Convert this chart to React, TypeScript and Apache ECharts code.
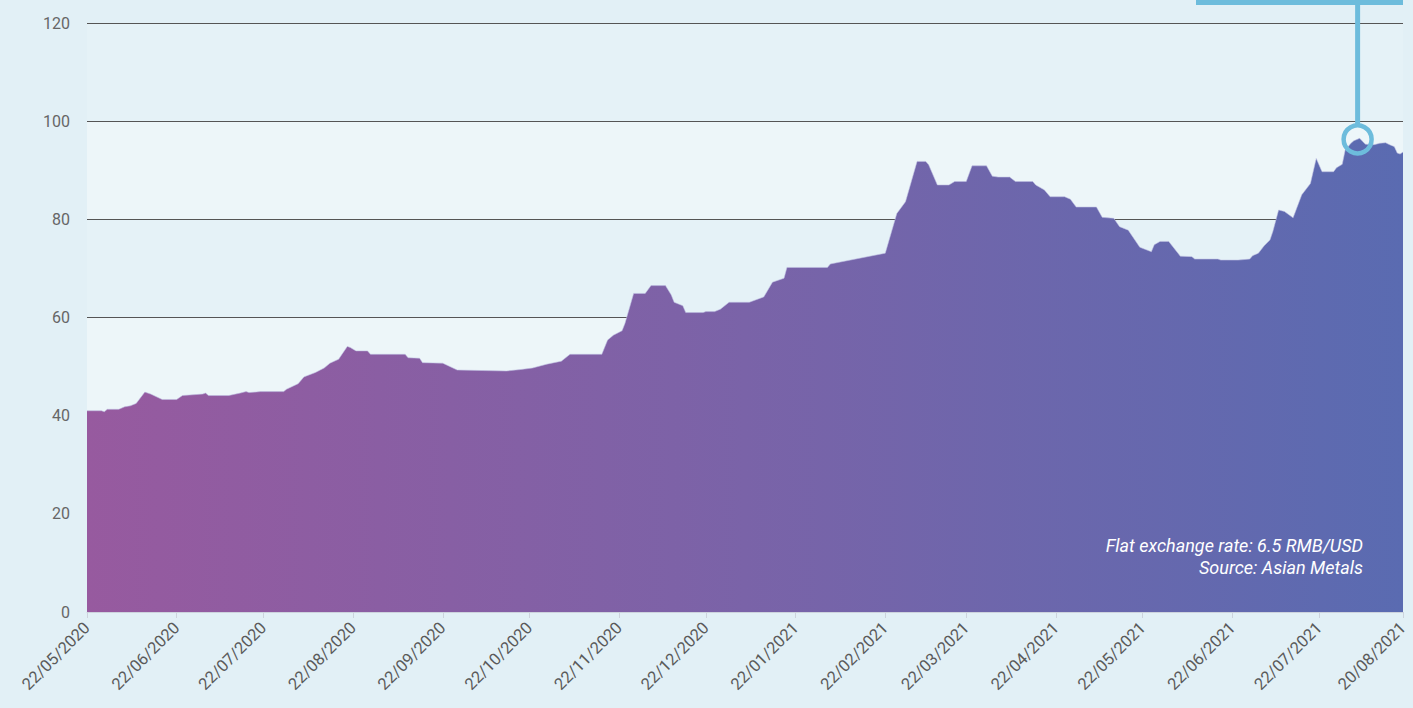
import React, { useEffect, useRef } from "react";
import * as echarts from "echarts";

const START_DATE = "2020-05-22";
const END_DATE = "2021-08-20";

const priceDates = [
  "2020-05-22", "2020-05-27", "2020-05-28", "2020-05-29", "2020-06-02", "2020-06-04", "2020-06-06", "2020-06-08",
  "2020-06-11", "2020-06-13", "2020-06-17", "2020-06-22", "2020-06-24", "2020-07-01", "2020-07-02", "2020-07-03",
  "2020-07-10", "2020-07-14", "2020-07-16", "2020-07-17", "2020-07-21", "2020-07-29", "2020-07-30", "2020-08-03",
  "2020-08-05", "2020-08-09", "2020-08-12", "2020-08-14", "2020-08-17", "2020-08-20", "2020-08-21", "2020-08-23",
  "2020-08-27", "2020-08-28", "2020-09-09", "2020-09-10", "2020-09-14", "2020-09-15", "2020-09-22", "2020-09-27",
  "2020-10-14", "2020-10-19", "2020-10-23", "2020-10-28", "2020-11-02", "2020-11-05", "2020-11-16", "2020-11-18",
  "2020-11-20", "2020-11-23", "2020-11-24", "2020-11-27", "2020-12-01", "2020-12-03", "2020-12-08", "2020-12-10",
  "2020-12-11", "2020-12-14", "2020-12-15", "2020-12-21", "2020-12-22", "2020-12-25", "2020-12-27", "2020-12-30",
  "2021-01-06", "2021-01-11", "2021-01-14", "2021-01-18", "2021-01-19", "2021-02-02", "2021-02-03", "2021-02-22",
  "2021-02-26", "2021-03-01", "2021-03-05", "2021-03-08", "2021-03-09", "2021-03-12", "2021-03-16", "2021-03-18",
  "2021-03-22", "2021-03-24", "2021-03-29", "2021-03-31", "2021-04-02", "2021-04-06", "2021-04-08", "2021-04-14",
  "2021-04-15", "2021-04-18", "2021-04-20", "2021-04-25", "2021-04-27", "2021-04-29", "2021-05-06", "2021-05-08",
  "2021-05-12", "2021-05-14", "2021-05-17", "2021-05-21", "2021-05-25", "2021-05-26", "2021-05-28", "2021-05-31",
  "2021-06-04", "2021-06-08", "2021-06-09", "2021-06-17", "2021-06-18", "2021-06-24", "2021-06-28", "2021-06-29",
  "2021-07-01", "2021-07-03", "2021-07-05", "2021-07-06", "2021-07-08", "2021-07-10", "2021-07-13", "2021-07-16",
  "2021-07-19", "2021-07-21", "2021-07-23", "2021-07-27", "2021-07-28", "2021-07-30", "2021-07-31", "2021-08-02",
  "2021-08-03", "2021-08-05", "2021-08-07", "2021-08-10", "2021-08-12", "2021-08-14", "2021-08-15", "2021-08-17",
  "2021-08-18", "2021-08-19", "2021-08-20",
];

const priceValues = [
  41.0, 41.0, 40.8, 41.3, 41.3, 41.8, 42.0, 42.5,
  44.8, 44.4, 43.3, 43.3, 44.1, 44.4, 44.6, 44.1,
  44.1, 44.6, 44.9, 44.7, 44.9, 44.9, 45.4, 46.5,
  47.9, 48.8, 49.7, 50.7, 51.5, 54.1, 53.9, 53.2,
  53.2, 52.5, 52.5, 51.8, 51.7, 50.8, 50.7, 49.3,
  49.1, 49.4, 49.7, 50.5, 51.1, 52.5, 52.5, 55.4,
  56.4, 57.3, 58.8, 64.9, 64.9, 66.5, 66.5, 64.6,
  63.1, 62.4, 61.0, 61.0, 61.2, 61.2, 61.7, 63.1,
  63.1, 64.2, 67.2, 68.0, 70.2, 70.2, 70.9, 73.1,
  81.2, 83.6, 91.8, 91.8, 91.1, 87.0, 87.0, 87.7,
  87.7, 90.9, 90.9, 88.8, 88.6, 88.6, 87.7, 87.7,
  87.0, 86.0, 84.6, 84.6, 84.1, 82.5, 82.5, 80.4,
  80.2, 78.5, 77.8, 74.3, 73.4, 74.8, 75.5, 75.5,
  72.5, 72.4, 71.9, 71.9, 71.7, 71.7, 71.9, 72.6,
  73.1, 74.6, 75.8, 77.5, 81.9, 81.6, 80.3, 85.0,
  87.3, 92.4, 89.7, 89.7, 90.5, 91.2, 94.1, 95.5,
  96.0, 96.5, 95.3, 95.2, 95.5, 95.6, 95.3, 94.8,
  93.5, 93.3, 93.7,
];

const yTicks = [0, 20, 40, 60, 80, 100, 120];
const noteLines = ["Flat exchange rate: 6.5 RMB/USD", "Source: Asian Metals"];

function buildDays(start: string, end: string): string[] {
  const out: string[] = [];
  const d = new Date(start + "T00:00:00Z");
  const e = new Date(end + "T00:00:00Z");
  while (d.getTime() <= e.getTime()) {
    out.push(d.toISOString().slice(0, 10));
    d.setUTCDate(d.getUTCDate() + 1);
  }
  return out;
}

const categories = buildDays(START_DATE, END_DATE);

function fmt(v: string) {
  const [y, m, d] = v.split("-");
  return `${d}/${m}/${y}`;
}

export default function App() {
  const ref = useRef<HTMLDivElement>(null);

  useEffect(() => {
    if (!ref.current) return;
    const chart = echarts.init(ref.current, null, { renderer: "svg" });
    const lastIdx = categories.length - 1;
    const showIdx = (idx: number) => idx === lastIdx || (categories[idx].slice(8, 10) === "22" && idx < lastIdx - 5);

    const seriesData = priceDates.map((d, i) => [d, priceValues[i]]);

    chart.setOption({
      animation: false,
      backgroundColor: "#e2f0f6",
      textStyle: { fontFamily: "Roboto" },
      grid: { left: 87, right: 10, top: 23, bottom: 96, containLabel: false },
      xAxis: {
        type: "category",
        data: categories,
        boundaryGap: false,
        axisLine: { show: true, lineStyle: { color: "#cdd3dd", width: 1 } },
        axisTick: {
          show: true,
          length: 6,
          interval: (idx: number) => showIdx(idx),
          lineStyle: { color: "#cdd3dd" },
        },
        axisLabel: {
          interval: (idx: number) => showIdx(idx),
          rotate: 45,
          margin: 13,
          color: "#5a5a5a",
          fontSize: 16.5,
          fontFamily: "Roboto",
          formatter: (v: string) => fmt(v),
        },
        splitLine: { show: false },
      },
      yAxis: {
        type: "value",
        min: yTicks[0],
        max: yTicks[yTicks.length - 1],
        interval: 20,
        axisLine: { show: false },
        axisTick: { show: false },
        axisLabel: { color: "#666", fontSize: 16, margin: 17, fontFamily: "Roboto" },
        splitLine: {
          show: true,
          lineStyle: { color: ["rgba(0,0,0,0)", "#555", "#555", "#555", "#555", "#555", "#555"], width: 1 },
        },
        splitArea: { show: true, areaStyle: { color: ["#edf6f9", "#e5f2f7"] } },
      },
      series: [
        {
          type: "line",
          data: seriesData,
          showSymbol: false,
          symbol: "none",
          smooth: false,
          lineStyle: { width: 1, color: "rgba(190,190,225,0.55)" },
          areaStyle: {
            opacity: 1,
            color: new echarts.graphic.LinearGradient(0, 0, 1, 0, [
              { offset: 0, color: "#975a9f" },
              { offset: 0.5, color: "#7a63a8" },
              { offset: 1, color: "#5a6bb1" },
            ]),
          },
          z: 3,
        },
      ],
    });

    // callout around the maximum
    let maxI = 0;
    priceValues.forEach((v, i) => {
      if (v > priceValues[maxI]) maxI = i;
    });
    const p = chart.convertToPixel({ gridIndex: 0 }, [priceDates[maxI], priceValues[maxI]]) as number[];
    const cx = p[0] - 2;
    const cy = p[1] + 1;
    const r = 14;
    const right = chart.getWidth() - 10;
    chart.setOption({
      graphic: [
        { type: "rect", shape: { x: 1196, y: -2, width: right - 1196, height: 7 }, style: { fill: "#6dbcdc" }, z: 100 },
        { type: "line", shape: { x1: cx, y1: 4, x2: cx, y2: cy - r }, style: { stroke: "#6dbcdc", lineWidth: 5 }, z: 100 },
        { type: "circle", shape: { cx, cy, r }, style: { fill: "none", stroke: "#6dbcdc", lineWidth: 4.5 }, z: 100 },
        {
          type: "text",
          x: 1363,
          y: 545,
          style: { text: noteLines[0], fill: "#fff", font: "italic 18px Roboto", align: "right", verticalAlign: "middle" },
          z: 100,
        },
        {
          type: "text",
          x: 1363,
          y: 567,
          style: { text: noteLines[1], fill: "#fff", font: "italic 18px Roboto", align: "right", verticalAlign: "middle" },
          z: 100,
        },
      ],
    });

    return () => chart.dispose();
  }, []);

  return (
    <div
      ref={ref}
      style={{ position: "fixed", left: 0, top: 0, width: 1413, height: 708 }}
    />
  );
}
